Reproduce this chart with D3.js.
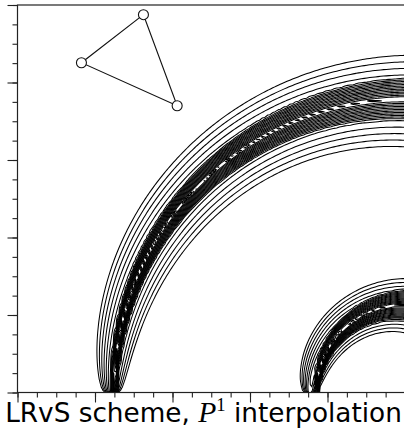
<!DOCTYPE html>
<html>
<head>
<meta charset="utf-8">
<script src="https://cdn.jsdelivr.net/npm/d3@7"></script>
<style>
  body { margin: 0; background: #fff; }
  svg { display: block; }
</style>
</head>
<body>
<script>
// Contour thresholds of the transported profile
const levels = d3.range(1, 20).map(k => +(k * 0.05).toFixed(2));

// Two bands entering through the bottom edge and turning around the corner (1, 0).
// Each pair is [value at inflow, value at outflow].
const coreRadius     = [[0.750, 0.758], [0.228, 0.226]];
const shoulderRadius = [[0.757, 0.752], [0.245, 0.224]];
const shoulderWidth  = [[0.018, 0.135], [0.014, 0.080]];
const coreWidth      = [[0.006, 0.055], [0.004, 0.040]];
const shoulderHeight = 0.40, coreHeight = 0.535;

// Reference element drawn in the corner
const triangle = [[0.325, 0.975], [0.165, 0.851], [0.412, 0.740]];

// Axis ticks
const majorTicks = [0, 0.2, 0.4, 0.6, 0.8, 1];
const minorTicks = d3.range(0, 21).map(k => k * 0.05);

const W = 404, H = 433;
const x = d3.scaleLinear().domain([0, 1]).range([17.5, 405]);
const y = d3.scaleLinear().domain([0, 1]).range([392.5, 5]);

const svg = d3.select("body").append("svg").attr("width", W).attr("height", H);

// ---- scalar field sampled on a regular grid ----
const n = 150, u0 = -0.03, v0 = -0.03, h = 1.06 / (n - 1);
const lerp = (p, t) => p[0] + (p[1] - p[0]) * t;

// Across each band: a gentle linear shoulder plus a steep linear core
function field(u, v) {
  const dx = 1 - u, r = Math.hypot(dx, v);
  let t = Math.atan2(Math.max(v, 0), dx) / (Math.PI / 2);
  t = Math.max(0, Math.min(1.2, t));
  const s = Math.sqrt(t);
  let f = 0;
  for (let k = 0; k < coreRadius.length; k++) {
    const rc = lerp(coreRadius[k], t), rs = lerp(shoulderRadius[k], t);
    const w = lerp(shoulderWidth[k], s), c = lerp(coreWidth[k], t);
    f += shoulderHeight * Math.max(0, 1 - Math.abs(r - rs) / w)
       + coreHeight * Math.max(0, 1 - Math.abs(r - rc) / c);
  }
  return f;
}

const values = new Float64Array(n * n);
for (let j = 0; j < n; j++)
  for (let i = 0; i < n; i++)
    values[i + j * n] = field(u0 + i * h, v0 + j * h);

const contours = d3.contours().size([n, n]).thresholds(levels)(values);

const toPixels = d3.geoTransform({
  point(gx, gy) { this.stream.point(x(u0 + (gx - 0.5) * h), y(v0 + (gy - 0.5) * h)); }
});
const path = d3.geoPath(toPixels);

svg.append("clipPath").attr("id", "plot-area")
  .append("rect")
  .attr("x", x(0)).attr("y", y(1))
  .attr("width", x(1) - x(0)).attr("height", y(0) - y(1));

svg.append("g").attr("clip-path", "url(#plot-area)")
  .selectAll("path").data(contours).join("path")
  .attr("d", path)
  .attr("fill", "none")
  .attr("stroke", "#000")
  .attr("stroke-width", 1.05)
  .attr("stroke-linejoin", "miter");

// ---- frame and ticks ----
svg.append("rect")
  .attr("x", x(0)).attr("y", y(1))
  .attr("width", x(1) - x(0)).attr("height", y(0) - y(1))
  .attr("fill", "none").attr("stroke", "#222").attr("stroke-width", 1.2);

function ticks(axis, vals, size) {
  return axis.tickValues(vals).tickSize(size).tickFormat("");
}
const styleAxis = g => {
  g.select(".domain").remove();
  g.selectAll("line").attr("stroke", "#222").attr("stroke-width", 1.1);
};
svg.append("g").attr("transform", `translate(${x(0)},0)`).call(ticks(d3.axisLeft(y), minorTicks, 5)).call(styleAxis);
svg.append("g").attr("transform", `translate(${x(0)},0)`).call(ticks(d3.axisLeft(y), majorTicks, 10)).call(styleAxis);
svg.append("g").attr("transform", `translate(0,${y(0)})`).call(ticks(d3.axisBottom(x), minorTicks, 5)).call(styleAxis);
svg.append("g").attr("transform", `translate(0,${y(0)})`).call(ticks(d3.axisBottom(x), majorTicks, 10)).call(styleAxis);

// ---- element sketch ----
const tri = svg.append("g");
tri.append("path")
  .attr("d", d3.line().x(d => x(d[0])).y(d => y(d[1]))(triangle.concat([triangle[0]])))
  .attr("fill", "none").attr("stroke", "#111").attr("stroke-width", 1.1);
tri.selectAll("circle").data(triangle).join("circle")
  .attr("cx", d => x(d[0])).attr("cy", d => y(d[1])).attr("r", 5)
  .attr("fill", "#fff").attr("stroke", "#111").attr("stroke-width", 1.1);

// ---- caption ----
const sans = "DejaVu Sans, Verdana, sans-serif", serif = "Liberation Serif, Times New Roman, serif";
const title = svg.append("text")
  .attr("x", 203.5).attr("y", 422)
  .attr("text-anchor", "middle")
  .attr("fill", "#000");
const parts = [
  { text: "LRvS scheme, ", family: sans, size: 24, dy: 0 },
  { text: "P", family: serif, size: 27, dy: 0, italic: true },
  { text: "1", family: serif, size: 17, dy: -10 },
  { text: " interpolation", family: sans, size: 24, dy: 10 }
];
const spans = title.selectAll("tspan").data(parts).join("tspan")
  .attr("font-family", d => d.family)
  .attr("font-style", d => d.italic ? "italic" : "normal")
  .attr("font-size", d => d.size)
  .attr("dy", d => d.dy)
  .text(d => d.text);
// fit the caption to the width of the frame
const k = 397 / title.node().getComputedTextLength();
spans.attr("font-size", d => d.size * k).attr("dy", d => d.dy * k);
</script>
</body>
</html>
